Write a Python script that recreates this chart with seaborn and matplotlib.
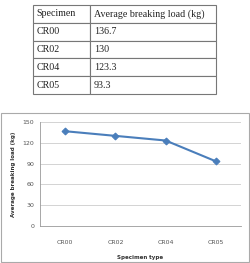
import matplotlib
matplotlib.use("Agg")
import matplotlib.pyplot as plt
import seaborn as sns
import pandas as pd
from matplotlib.patches import Rectangle

# data from the table / chart
specimens = ["CR00", "CR02", "CR04", "CR05"]
loads = [136.7, 130, 123.3, 93.3]
load_labels = ["136.7", "130", "123.3", "93.3"]
yticks = [0, 30, 60, 90, 120, 150]

df = pd.DataFrame({"Specimen": specimens, "Load": loads})

sns.set_style("white")
fig = plt.figure(figsize=(2.5, 2.63), dpi=100)

# table at top
tax = fig.add_axes([33/250, 1-94/263, 183/250, 89/263])
tax.axis("off")
cells = [[s, l] for s, l in zip(specimens, load_labels)]
tbl = tax.table(cellText=cells, colLabels=["Specimen", "Average breaking load (kg)"],
                colWidths=[57/183, 126/183], cellLoc="left", colLoc="left", bbox=[0, 0, 1, 1])
tbl.auto_set_font_size(False)
for (r, c), cell in tbl.get_celld().items():
    cell.set_edgecolor("#777777")
    cell.set_linewidth(0.8)
    cell.PAD = 0.06 if c == 0 else 0.03
    cell.get_text().set_fontsize(7.2)
    cell.get_text().set_fontfamily("Liberation Serif")
    cell.get_text().set_color("#222222")

# chart border
fig.patches.append(Rectangle((0.002, 0.002), 0.994, (263-114)/263, transform=fig.transFigure,
                             fill=False, edgecolor="#aaaaaa", linewidth=0.8))

ax = fig.add_axes([40/250, 1-226/263, 201/250, 104/263])
sns.lineplot(data=df, x="Specimen", y="Load", ax=ax, color="#4a7ebb",
             marker="D", markersize=3.5, markeredgecolor="#4a7ebb", linewidth=1.5)
ax.set_ylim(0, 150)
ax.set_yticks(yticks)
ax.set_xlim(-0.5, 3.5)
ax.grid(axis="y", color="#cccccc", linewidth=0.6)
ax.set_axisbelow(True)
for s in ["top", "right"]:
    ax.spines[s].set_visible(False)
for s in ["left", "bottom"]:
    ax.spines[s].set_color("#999999")
    ax.spines[s].set_linewidth(0.6)
ax.tick_params(axis="both", labelsize=4.5, colors="#555555", length=2, width=0.5, pad=2)
ax.tick_params(axis="x", pad=8)
ax.set_xlabel("Specimen type", fontsize=4, fontweight="bold", color="#333333", labelpad=7)
ax.set_ylabel("Average breaking load (kg)", fontsize=4, fontweight="bold", color="#333333", labelpad=5)

fig.savefig("out.png", dpi=100)
